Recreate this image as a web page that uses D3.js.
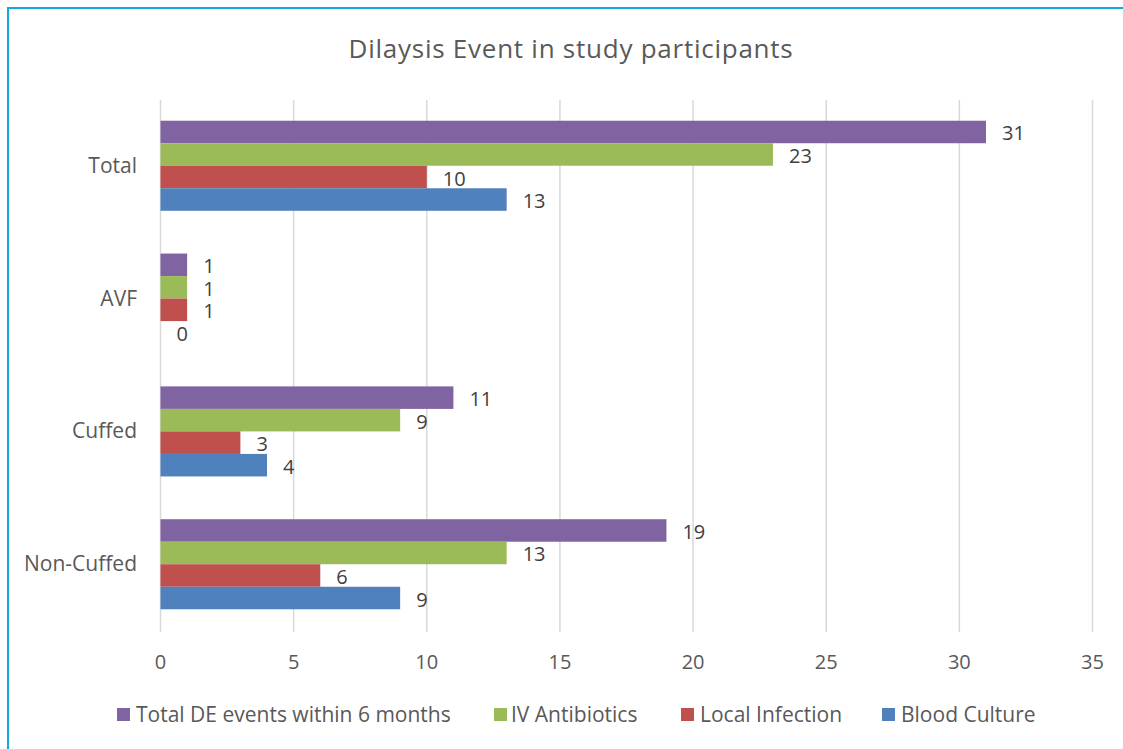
<!DOCTYPE html>
<html><head><meta charset="utf-8">
<script src="https://cdn.jsdelivr.net/npm/d3@7"></script>
<style>body{margin:0;background:#fff;}svg{display:block;font-family:"Open Sans",sans-serif;}</style>
</head><body>
<svg id="c" width="1123" height="749"></svg>
<script>
const categories = ["Total", "AVF", "Cuffed", "Non-Cuffed"];
const seriesNames = ["Total DE events within 6 months", "IV Antibiotics", "Local Infection", "Blood Culture"];
const seriesColors = ["#8064A2", "#9BBB59", "#C0504D", "#4F81BD"];
const totalDE = [31, 1, 11, 19];
const ivAntibiotics = [23, 1, 9, 13];
const localInfection = [10, 1, 3, 6];
const bloodCulture = [13, 0, 4, 9];
const xTicks = [0, 5, 10, 15, 20, 25, 30, 35];
const title = "Dilaysis Event in study participants";

const seriesValues = [totalDE, ivAntibiotics, localInfection, bloodCulture];
const svg = d3.select("#c");
const textCol = "#595959";

// border
svg.append("path").attr("d","M8,749 L8,8 L1123,8").attr("fill","none").attr("stroke","#12A9E0").attr("stroke-width",2);

const pLeft = 160.5, pRight = 1092.5, pTop = 100, pBottom = 632;
const x = d3.scaleLinear().domain([0,35]).range([pLeft,pRight]);
const y = d3.scaleBand().domain(categories).range([pTop,630]).paddingInner(0.322).paddingOuter(0.156);
const inner = d3.scaleBand().domain(seriesNames).range([0,y.bandwidth()]);

// gridlines
svg.append("g").selectAll("line").data(xTicks).join("line")
  .attr("x1",d=>x(d)).attr("x2",d=>x(d)).attr("y1",pTop).attr("y2",pBottom)
  .attr("stroke","#d9d9d9").attr("stroke-width",1.5);

// x tick labels
svg.append("g").selectAll("text").data(xTicks).join("text")
  .attr("x",d=>x(d)).attr("y",669).attr("text-anchor","middle")
  .attr("font-size",20).attr("fill",textCol).text(d=>d);

// category labels
svg.append("g").selectAll("text").data(categories).join("text")
  .attr("x",137).attr("y",d=>y(d)+y.bandwidth()/2+7).attr("text-anchor","end")
  .attr("font-size",21).attr("fill",textCol).text(d=>d);

// bars
seriesNames.forEach((s,si)=>{
  const g = svg.append("g");
  g.selectAll("rect").data(categories).join("rect")
    .attr("x",x(0)).attr("y",c=>y(c)+inner(s))
    .attr("width",(c,i)=>x(seriesValues[si][i])-x(0))
    .attr("height",inner.bandwidth())
    .attr("fill",seriesColors[si]);
  g.selectAll("text").data(categories).join("text")
    .attr("x",(c,i)=>x(seriesValues[si][i])+16)
    .attr("y",c=>y(c)+inner(s)+inner.bandwidth()/2+8.5)
    .attr("font-size",20).attr("fill","#404040")
    .text((c,i)=>seriesValues[si][i]);
});

// title
svg.append("text").attr("x",571).attr("y",58).attr("text-anchor","middle")
  .attr("font-size",26).attr("letter-spacing",0.75).attr("fill",textCol).text(title);

// legend
const legendX = [117, 494, 681, 882];
const legendTextX = [136, 511, 700, 901];
const lg = svg.append("g");
seriesNames.forEach((s,i)=>{
  lg.append("rect").attr("x",legendX[i]).attr("y",708).attr("width",13).attr("height",13).attr("fill",seriesColors[i]);
  lg.append("text").attr("x",legendTextX[i]).attr("y",722).attr("font-size",21).attr("fill",textCol).text(s);
});
</script>
</body></html>
